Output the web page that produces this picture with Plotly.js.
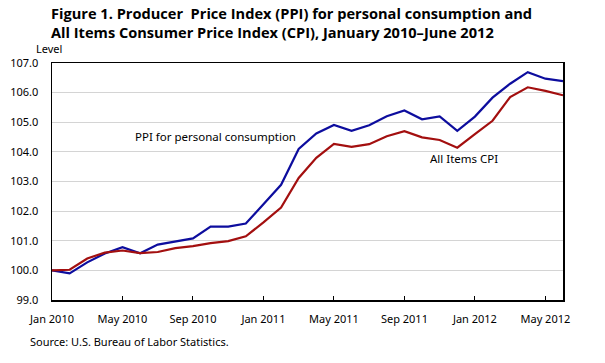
<!DOCTYPE html>
<html>
<head>
<meta charset="utf-8">
<script src="https://cdn.plot.ly/plotly-3.0.1.min.js"></script>
<style>html,body{margin:0;padding:0;background:#fff;}#chart{width:605px;height:363px;}</style>
</head>
<body>
<div id="chart"></div>
<script>
const monthNames = ["Jan","Feb","Mar","Apr","May","Jun","Jul","Aug","Sep","Oct","Nov","Dec"];
const startYear = 2010;
const nMonths = 30;
const months = [];
for (let i = 0; i < nMonths; i++) {
  months.push(monthNames[i % 12] + " " + (startYear + Math.floor(i / 12)));
}
const ppi = [100.0, 99.9, 100.27, 100.57, 100.78, 100.58, 100.87, 100.97, 101.08, 101.48,
             101.48, 101.58, 102.23, 102.89, 104.1, 104.62, 104.91, 104.71, 104.9, 105.2,
             105.4, 105.1, 105.2, 104.71, 105.19, 105.83, 106.3, 106.69, 106.47, 106.39];
const cpi = [100.0, 100.02, 100.4, 100.6, 100.67, 100.58, 100.62, 100.75, 100.82, 100.92,
             100.99, 101.15, 101.62, 102.12, 103.12, 103.8, 104.27, 104.17, 104.26, 104.53,
             104.7, 104.49, 104.4, 104.14, 104.6, 105.05, 105.85, 106.18, 106.06, 105.91];
const xTickLabels = ["Jan 2010","May 2010","Sep 2010","Jan 2011","May 2011","Sep 2011","Jan 2012","May 2012"];
const yTickVals = [99,100,101,102,103,104,105,106,107];

const tickFont = {family: "Noto Sans, sans-serif", size: 11, color: "#000"};

const data = [
  {x: months, y: ppi, type: "scatter", mode: "lines", name: "PPI for personal consumption",
   line: {color: "#0d0d9e", width: 2.2}, hoverinfo: "none"},
  {x: months, y: cpi, type: "scatter", mode: "lines", name: "All Items CPI",
   line: {color: "#a30f0f", width: 2.2}, hoverinfo: "none"}
];

const layout = {
  width: 605, height: 363,
  margin: {l: 52, r: 42, t: 63, b: 63},
  paper_bgcolor: "#fff", plot_bgcolor: "#fff",
  showlegend: false,
  xaxis: {
    type: "category", categoryorder: "array", categoryarray: months,
    range: [0, nMonths - 1],
    tickmode: "array", tickvals: xTickLabels, ticktext: xTickLabels,
    ticks: "inside", ticklen: 4, tickcolor: "#000", tickwidth: 1,
    showgrid: false, zeroline: false,
    showline: true, linecolor: "#000", linewidth: 1.5, mirror: true,
    tickfont: tickFont, ticklabelstandoff: 8
  },
  yaxis: {
    range: [99, 107], tickmode: "array", tickvals: yTickVals,
    tickformat: ".1f",
    ticks: "", showgrid: true, gridcolor: "#d4d4d4", gridwidth: 1,
    zeroline: false,
    showline: true, linecolor: "#000", linewidth: 1.5, mirror: true,
    tickfont: tickFont, ticklabelstandoff: 10
  },
  annotations: [
    {text: "<b>Figure 1. Producer  Price Index (PPI) for personal consumption and<br>All Items Consumer Price Index (CPI), January 2010–June 2012</b>",
     xref: "paper", yref: "paper", x: -0.006, y: 1.262, xanchor: "left", yanchor: "top", align: "left",
     showarrow: false, font: {family: "Open Sans, sans-serif", size: 14.6, color: "#000"}},
    {text: "Level", xref: "paper", yref: "paper", x: -0.035, y: 1.02, xanchor: "left", yanchor: "bottom",
     showarrow: false, font: {family: "Noto Sans, sans-serif", size: 11, color: "#000"}},
    {text: "PPI for personal consumption", xref: "paper", yref: "y", x: 0.158, y: 104.53,
     xanchor: "left", yanchor: "middle",
     showarrow: false, font: {family: "Noto Sans, sans-serif", size: 11.5, color: "#000"}},
    {text: "All Items CPI", xref: "paper", yref: "y", x: 0.806, y: 103.76,
     xanchor: "center", yanchor: "middle",
     showarrow: false, font: {family: "Noto Sans, sans-serif", size: 11.5, color: "#000"}},
    {text: "Source: U.S. Bureau of Labor Statistics.", xref: "paper", yref: "paper", x: -0.047, y: -0.173,
     xanchor: "left", yanchor: "middle",
     showarrow: false, font: {family: "Noto Sans, sans-serif", size: 11, color: "#000"}}
  ]
};

Plotly.newPlot("chart", data, layout, {staticPlot: true, displayModeBar: false});
</script>
</body>
</html>
